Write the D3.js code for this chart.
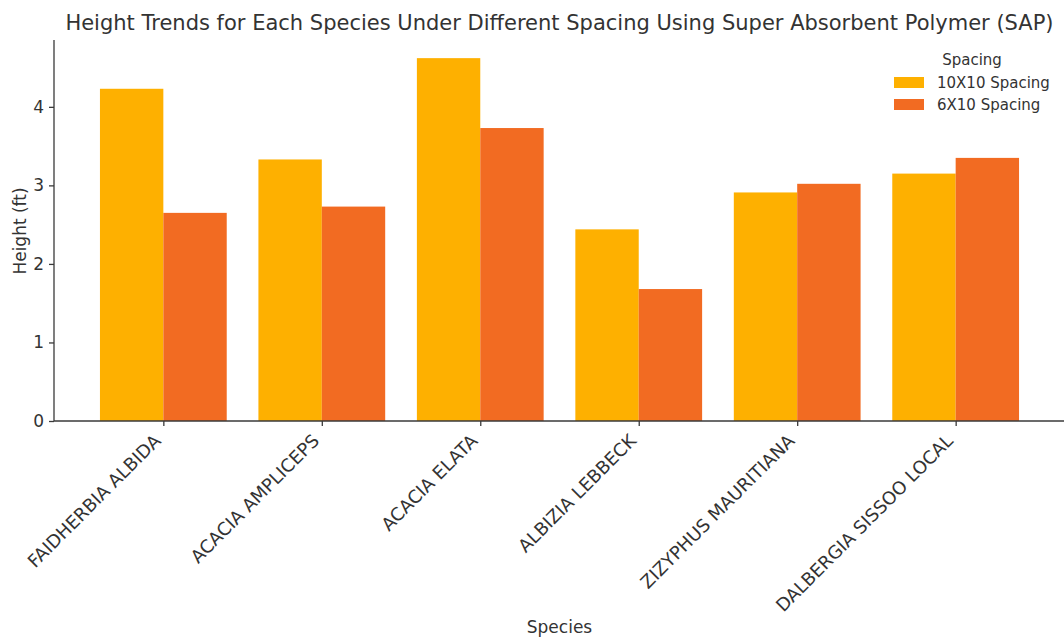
<!DOCTYPE html>
<html>
<head>
<meta charset="utf-8">
<script src="https://cdn.jsdelivr.net/npm/d3@7"></script>
<style>
  body { margin: 0; background: #fff; }
  svg { display: block; font-family: "DejaVu Sans", sans-serif; }
</style>
</head>
<body>
<svg id="chart" width="1064" height="637"></svg>
<script>
// Species and mean heights (ft) per spacing treatment
const species = ["FAIDHERBIA ALBIDA", "ACACIA AMPLICEPS", "ACACIA ELATA", "ALBIZIA LEBBECK", "ZIZYPHUS MAURITIANA", "DALBERGIA SISSOO LOCAL"];
const spacing10x10 = [4.23, 3.33, 4.62, 2.44, 2.91, 3.15];
const spacing6x10 = [2.65, 2.73, 3.73, 1.68, 3.02, 3.35];
const seriesNames = ["10X10 Spacing", "6X10 Spacing"];
const seriesColors = ["#FEB000", "#F26B22"];
const yTicks = [0, 1, 2, 3, 4];

const svg = d3.select("#chart");
const margin = { left: 54, right: -1, top: 40, bottom: 216 };
const W = 1064, H = 637;
const plotBottom = H - margin.bottom;

// continuous x in category units, like a grouped bar layout
const n = species.length;
const x = d3.scaleLinear().domain([-0.69, n - 1 + 0.69]).range([margin.left, W - margin.right]);
const yMax = d3.max([...spacing10x10, ...spacing6x10]) * 1.05;
const y = d3.scaleLinear().domain([0, yMax]).range([plotBottom, margin.top]);
const barW = 0.4;

const series = [spacing10x10, spacing6x10];
series.forEach((vals, s) => {
  svg.append("g").selectAll("rect").data(vals).join("rect")
    .attr("x", (d, i) => x(i + (s === 0 ? -barW : 0)))
    .attr("width", x(barW) - x(0))
    .attr("y", d => y(d))
    .attr("height", d => plotBottom - y(d))
    .attr("fill", seriesColors[s]);
});

const axisColor = "#3a3a3a";
const textColor = "#333";

// y axis
const yAxis = svg.append("g").attr("transform", `translate(${margin.left},0)`)
  .call(d3.axisLeft(y).tickValues(yTicks).tickSize(5).tickPadding(5).tickFormat(d3.format("d")));
yAxis.select(".domain").attr("stroke", axisColor).attr("stroke-width", 1.3).attr("d", `M0,${plotBottom}V${margin.top}`);
yAxis.selectAll(".tick line").attr("stroke", axisColor).attr("stroke-width", 1.3);
yAxis.selectAll(".tick text").attr("fill", textColor).style("font-size", "17px").style("font-family", "DejaVu Sans");

// x axis
const xAxis = svg.append("g").attr("transform", `translate(0,${plotBottom})`)
  .call(d3.axisBottom(x).tickValues(d3.range(n)).tickSize(5).tickFormat(i => species[i]));
xAxis.select(".domain").attr("stroke", axisColor).attr("stroke-width", 1.3).attr("d", `M${margin.left},0H${W - margin.right}`);
xAxis.selectAll(".tick line").attr("stroke", axisColor).attr("stroke-width", 1.3);
xAxis.selectAll(".tick text")
  .attr("fill", textColor)
  .style("font-size", "18px").style("font-family", "DejaVu Sans")
  .attr("text-anchor", "end")
  .attr("dy", null)
  .attr("y", 0)
  .attr("transform", "translate(-2,21) rotate(-45)");

// titles
svg.append("text").attr("x", (margin.left + W - margin.right) / 2).attr("y", 30)
  .attr("text-anchor", "middle").attr("fill", textColor).style("font-size", "21px")
  .text("Height Trends for Each Species Under Different Spacing Using Super Absorbent Polymer (SAP)");
svg.append("text").attr("x", (margin.left + W - margin.right) / 2).attr("y", 633)
  .attr("text-anchor", "middle").attr("fill", textColor).style("font-size", "17px").text("Species");
svg.append("text").attr("transform", "translate(26,231) rotate(-90)")
  .attr("text-anchor", "middle").attr("fill", textColor).style("font-size", "17px").text("Height (ft)");

// legend
const lg = svg.append("g").attr("transform", "translate(894,0)");
lg.append("text").attr("x", 78).attr("y", 65).attr("text-anchor", "middle")
  .attr("fill", textColor).style("font-size", "15px").text("Spacing");
seriesNames.forEach((name, i) => {
  lg.append("rect").attr("x", 0).attr("y", 77 + i * 22).attr("width", 30).attr("height", 11).attr("fill", seriesColors[i]);
  lg.append("text").attr("x", 43).attr("y", 88 + i * 22).attr("fill", textColor)
    .style("font-size", "15px").text(name);
});
</script>
</body>
</html>
